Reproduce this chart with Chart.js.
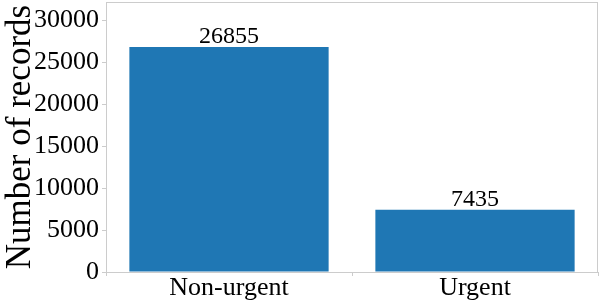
<!DOCTYPE html>
<html>
<head>
<meta charset="utf-8">
<script src="https://cdn.jsdelivr.net/npm/chart.js@4"></script>
<style>
  html, body { margin: 0; padding: 0; background: #fff; }
  #wrap { width: 607px; height: 305px; }
</style>
</head>
<body>
<div id="wrap"><canvas id="chart" width="607" height="305"></canvas></div>
<script>
// data
const categories = ['Non-urgent', 'Urgent'];
const recordCounts = [26855, 7435];
const yTicks = [0, 5000, 10000, 15000, 20000, 25000, 30000];

const SERIF = "'Liberation Serif', 'Times New Roman', serif";
const FRAME = '#cccccc';

// value labels over the bars + full frame like matplotlib
const barLabels = {
    id: 'barLabels',
    afterDatasetsDraw(chart) {
        const ctx = chart.ctx;
        const meta = chart.getDatasetMeta(0);
        ctx.save();
        ctx.fillStyle = '#000';
        ctx.font = '24px ' + SERIF;
        ctx.textAlign = 'center';
        ctx.textBaseline = 'bottom';
        meta.data.forEach((bar, i) => {
            ctx.fillText(String(recordCounts[i]), bar.x, bar.y + 2);
        });
        const a = chart.chartArea;
        ctx.strokeStyle = FRAME;
        ctx.lineWidth = 1;
        ctx.strokeRect(a.left + 0.5, a.top + 0.5, a.right - a.left - 1, a.bottom - a.top);
        ctx.restore();
    }
};

new Chart(document.getElementById('chart'), {
    type: 'bar',
    data: {
        labels: categories,
        datasets: [{
            data: recordCounts,
            backgroundColor: '#1f77b4',
            borderWidth: 0,
            barPercentage: 0.81,
            categoryPercentage: 1.0
        }]
    },
    options: {
        responsive: false,
        animation: false,
        devicePixelRatio: 1,
        layout: { padding: { left: 0, right: 9, top: 2, bottom: 0 } },
        plugins: {
            legend: { display: false },
            tooltip: { enabled: false }
        },
        scales: {
            x: {
                grid: { display: true, drawOnChartArea: false, drawTicks: true, tickLength: 4, color: FRAME },
                border: { display: true, color: FRAME },
                ticks: { color: '#000', font: { family: SERIF, size: 26 }, padding: -3 },
                afterFit: (scale) => { scale.height = 33; scale.paddingLeft = 0; scale.paddingRight = 0; }
            },
            y: {
                min: 0,
                max: 32226,
                afterBuildTicks: (scale) => { scale.ticks = yTicks.map(v => ({ value: v })); },
                grid: { display: true, drawOnChartArea: false, drawTicks: true, tickLength: 4, color: FRAME },
                border: { display: true, color: FRAME },
                ticks: {
                    color: '#000',
                    font: { family: SERIF, size: 26 },
                    padding: 3,
                    callback: (v) => String(v)
                },
                title: {
                    display: true,
                    text: 'Number of records',
                    color: '#000',
                    font: { family: SERIF, size: 35 },
                    padding: { top: 0, bottom: 0 }
                },
                afterFit: (scale) => { scale.width = 106; scale.paddingTop = 0; scale.paddingBottom = 0; }
            }
        }
    },
    plugins: [barLabels]
});
</script>
</body>
</html>
